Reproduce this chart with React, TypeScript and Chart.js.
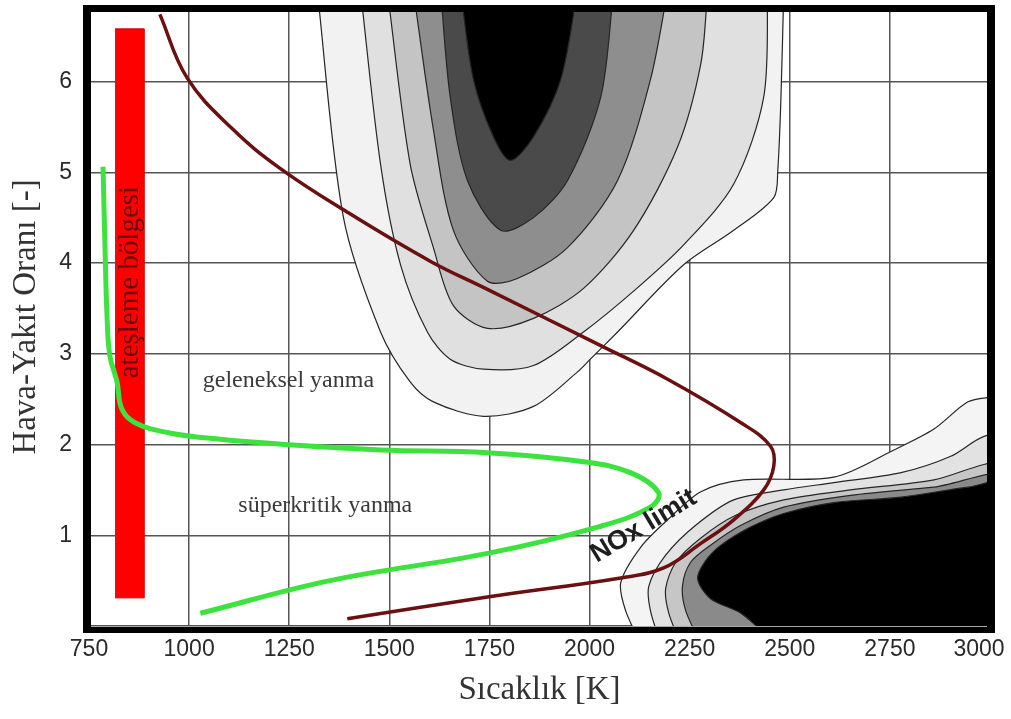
import React, { useEffect, useRef } from 'react';
import { Chart, registerables } from 'chart.js';

Chart.register(...registerables);

// ---------- data (x: Sıcaklık [K], y: Hava-Yakıt Oranı [-]) ----------
const xTickValues = [750, 1000, 1250, 1500, 1750, 2000, 2250, 2500, 2750, 3000];
const yTickValues = [0, 1, 2, 3, 4, 5, 6];

const xTitle = 'Sıcaklık [K]';
const yTitle = 'Hava-Yakıt Oranı [-]';

const noxLimit: number[][] = [
  [927, 6.74], [995, 6.04], [1110, 5.47], [1228, 5.04], [1395, 4.56], [1602, 4.02],
  [1740, 3.72], [2028, 3.09], [2195, 2.72], [2378, 2.24], [2452, 1.98], [2460, 1.76],
  [2435, 1.5], [2360, 1.17], [2278, 0.91], [2185, 0.64], [2078, 0.53], [1745, 0.32],
  [1395, 0.08],
];

const superCriticalLine: number[][] = [
  [785, 5.06], [790, 4.17], [795, 3.42], [802, 2.98], [820, 2.69], [832, 2.39],
  [865, 2.24], [948, 2.13], [1072, 2.06], [1240, 2.0], [1478, 1.94], [1745, 1.91],
  [1985, 1.81], [2102, 1.69], [2172, 1.47], [2152, 1.31], [2020, 1.09], [1745, 0.8],
  [1352, 0.5], [1028, 0.14],
];

const ignitionZone: number[][] = [[815, 0.31], [888, 0.31], [888, 6.58], [815, 6.58]];

// upper contour field (outer -> inner)
const upper1: number[][] = [
  [1320, 7.0], [1385, 4.51], [1478, 3.24], [1552, 2.69], [1610, 2.47], [1735, 2.31],
  [1860, 2.42], [1970, 2.8], [2002, 2.94], [2070, 3.24], [2235, 3.98], [2360, 4.36],
  [2460, 4.72], [2470, 5.02], [2478, 5.83], [2485, 7.0],
];
const upper2: number[][] = [
  [1428, 7.0], [1478, 5.09], [1528, 3.98], [1595, 3.24], [1652, 2.94], [1735, 2.83],
  [1860, 2.87], [1985, 3.24], [2110, 3.69], [2235, 4.2], [2360, 4.87], [2435, 5.83],
  [2445, 7.0],
];
const upper3: number[][] = [
  [1495, 7.0], [1552, 5.09], [1610, 4.17], [1660, 3.53], [1745, 3.28], [1860, 3.39],
  [1985, 3.72], [2110, 4.36], [2220, 5.28], [2278, 6.2], [2295, 7.0],
];
const upper4: number[][] = [
  [1560, 7.0], [1610, 5.47], [1660, 4.36], [1745, 3.8], [1820, 3.83], [1945, 4.17],
  [2070, 4.91], [2152, 6.02], [2195, 7.0],
];
const upper5: number[][] = [
  [1628, 7.0], [1652, 5.83], [1695, 4.91], [1778, 4.36], [1860, 4.5], [1945, 4.91],
  [2028, 5.83], [2060, 7.0],
];
const upper6: number[][] = [
  [1678, 7.0], [1710, 6.02], [1760, 5.39], [1802, 5.13], [1860, 5.39], [1928, 6.02],
  [1970, 7.0],
];

// lower-right contour field (outer -> inner)
const lower1: number[][] = [
  [2128, -0.2], [2090, 0.17], [2078, 0.48], [2128, 0.87], [2195, 1.17], [2278, 1.48],
  [2385, 1.61], [2610, 1.64], [2760, 1.94], [2860, 2.17], [2945, 2.47], [3002, 2.52],
  [3060, 2.52], [3060, -0.2],
];
const lower2: number[][] = [
  [2178, -0.2], [2152, 0.17], [2148, 0.44], [2190, 0.78], [2265, 1.11], [2360, 1.39],
  [2485, 1.5], [2610, 1.58], [2778, 1.69], [2902, 1.87], [2985, 2.09], [3060, 2.11],
  [3060, -0.2],
];
const lower3: number[][] = [
  [2228, -0.2], [2198, 0.14], [2190, 0.41], [2215, 0.7], [2278, 0.97], [2365, 1.22],
  [2485, 1.39], [2652, 1.5], [2860, 1.61], [2985, 1.78], [3060, 1.81], [3060, -0.2],
];
const lower4: number[][] = [
  [2278, -0.2], [2240, 0.17], [2232, 0.44], [2252, 0.7], [2302, 0.89], [2378, 1.11],
  [2485, 1.31], [2652, 1.44], [2860, 1.53], [3060, 1.63], [3060, -0.2],
];
const lower5: number[][] = [
  [2465, -0.2], [2378, 0.14], [2302, 0.3], [2270, 0.52], [2290, 0.72], [2328, 0.89],
  [2402, 1.09], [2485, 1.24], [2610, 1.36], [2778, 1.42], [2945, 1.53], [3060, 1.57],
  [3060, -0.2],
];

const upperFills = ['#f2f2f2', '#e0e0e0', '#c4c4c4', '#8e8e8e', '#4a4a4a', '#000000'];
const lowerFills = ['#f4f4f4', '#e2e2e2', '#c6c6c6', '#8a8a8a', '#000000'];

// ---------- styling ----------
const SERIF = "'Liberation Serif', 'Times New Roman', serif";
const SANS = "'Liberation Sans', Arial, sans-serif";

const pts = (a: number[][]) => a.map(([x, y]) => ({ x, y }));

const contour = (data: number[][], fillColor: string, order: number) => ({
  data: pts(data),
  showLine: true,
  fill: 'shape',
  backgroundColor: fillColor,
  borderColor: '#262626',
  borderWidth: 1.2,
  tension: 0.3,
  pointRadius: 0,
  order,
});

const labelsPlugin = {
  id: 'labels',
  afterDatasetsDraw(chart: any) {
    const { ctx, scales } = chart;
    const X = (v: number) => scales.x.getPixelForValue(v);
    const Y = (v: number) => scales.y.getPixelForValue(v);
    ctx.save();
    ctx.textAlign = 'center';
    ctx.textBaseline = 'middle';

    ctx.fillStyle = '#3a3a3a';
    ctx.font = `24px ${SERIF}`;
    ctx.fillText('geleneksel yanma', X(1248), Y(2.7));
    ctx.fillText('süperkritik yanma', X(1340), Y(1.33));

    ctx.save();
    ctx.translate(X(851), Y(3.79));
    ctx.rotate(-Math.PI / 2);
    ctx.fillStyle = '#6e0606';
    ctx.font = `29px ${SERIF}`;
    ctx.fillText('ateşleme bölgesi', 0, 1);
    ctx.restore();

    ctx.save();
    ctx.translate(X(2135), Y(1.1));
    ctx.rotate((-31 * Math.PI) / 180);
    ctx.fillStyle = '#1e1e1e';
    ctx.font = `bold 27px ${SANS}`;
    ctx.fillText('NOx limit', 0, 0);
    ctx.restore();

    ctx.restore();
  },
  afterDraw(chart: any) {
    const { ctx, chartArea: a } = chart;
    ctx.save();
    ctx.fillStyle = '#000';
    const w = a.right - a.left;
    const h = a.bottom - a.top;
    ctx.fillRect(a.left - 6, a.top - 3, 8, h + 9);
    ctx.fillRect(a.left - 6, a.top - 3, w + 11, 7);
    ctx.fillRect(a.right - 3, a.top - 3, 8, h + 9);
    ctx.fillRect(a.left - 6, a.bottom + 1, w + 11, 6);
    // last x tick label, pulled inside the canvas as in the reference
    ctx.fillStyle = '#2a2a2a';
    ctx.font = `23px ${SANS}`;
    ctx.textAlign = 'center';
    ctx.textBaseline = 'middle';
    ctx.fillText(String(xTickValues[xTickValues.length - 1]), a.right - 11, a.bottom + 10 + 23 * 0.6);
    ctx.restore();
  },
};

export default function App() {
  const ref = useRef<HTMLCanvasElement | null>(null);

  useEffect(() => {
    if (!ref.current) return;
    const uppers = [upper1, upper2, upper3, upper4, upper5, upper6];
    const lowers = [lower1, lower2, lower3, lower4, lower5];
    const datasets: any[] = [
      {
        label: 'NOx limit',
        data: pts(noxLimit),
        showLine: true,
        borderColor: '#6a1010',
        borderWidth: 3.5,
        tension: 0.4,
        pointRadius: 0,
        fill: false,
        order: 1,
      },
      {
        label: 'süperkritik',
        data: pts(superCriticalLine),
        showLine: true,
        borderColor: '#3ee23e',
        borderWidth: 5,
        tension: 0.4,
        pointRadius: 0,
        fill: false,
        order: 2,
      },
      {
        label: 'ateşleme bölgesi',
        data: pts(ignitionZone),
        showLine: true,
        fill: 'shape',
        backgroundColor: '#ff0000',
        borderColor: '#d00000',
        borderWidth: 1,
        tension: 0,
        pointRadius: 0,
        order: 3,
      },
      ...uppers.map((d, i) => contour(d, upperFills[i], 40 - i)),
      ...lowers.map((d, i) => contour(d, lowerFills[i], 30 - i)),
    ];

    const chart = new Chart(ref.current, {
      type: 'scatter',
      data: { datasets },
      plugins: [labelsPlugin],
      options: {
        animation: false,
        responsive: true,
        maintainAspectRatio: false,
        events: [],
        layout: { padding: { top: 8, right: 21, bottom: 0, left: 0 } },
        plugins: {
          legend: { display: false },
          tooltip: { enabled: false },
        },
        elements: { point: { radius: 0 } },
        scales: {
          x: {
            type: 'linear',
            min: 750,
            max: 3000,
            afterBuildTicks: (s: any) => {
              s.ticks = xTickValues.map((v) => ({ value: v }));
            },
            afterFit: (s: any) => {
              s.height = 93;
              s.paddingLeft = 0;
              s.paddingRight = 0;
            },
            grid: { color: '#555', lineWidth: 1.5, drawTicks: false },
            border: { display: false },
            ticks: {
              padding: 10,
              color: '#2a2a2a',
              font: { family: SANS, size: 23 },
              maxRotation: 0,
              autoSkip: false,
              callback: (v: any) => (v === 3000 ? '' : String(v)),
            },
            title: {
              display: true,
              text: xTitle,
              color: '#333',
              font: { family: SERIF, size: 33 },
              padding: { top: 0, bottom: 9 },
            },
          },
          y: {
            type: 'linear',
            min: 0,
            max: 6.81,
            afterBuildTicks: (s: any) => {
              s.ticks = yTickValues.map((v) => ({ value: v }));
            },
            afterFit: (s: any) => {
              s.width = 89;
              s.paddingTop = 0;
              s.paddingBottom = 0;
            },
            grid: { color: '#555', lineWidth: 1.5, drawTicks: false },
            border: { display: false },
            ticks: {
              padding: 17,
              color: '#2a2a2a',
              font: { family: SANS, size: 23 },
              callback: (v: any) => (v === 0 ? '' : String(v)),
            },
            title: {
              display: true,
              text: yTitle,
              color: '#333',
              font: { family: SERIF, size: 33 },
              padding: { top: 7, bottom: 0 },
            },
          },
        },
      } as any,
    });
    return () => chart.destroy();
  }, []);

  return (
    <div style={{ position: 'absolute', left: 0, top: 0, width: 1011, height: 719, background: '#fff' }}>
      <canvas ref={ref} />
    </div>
  );
}
